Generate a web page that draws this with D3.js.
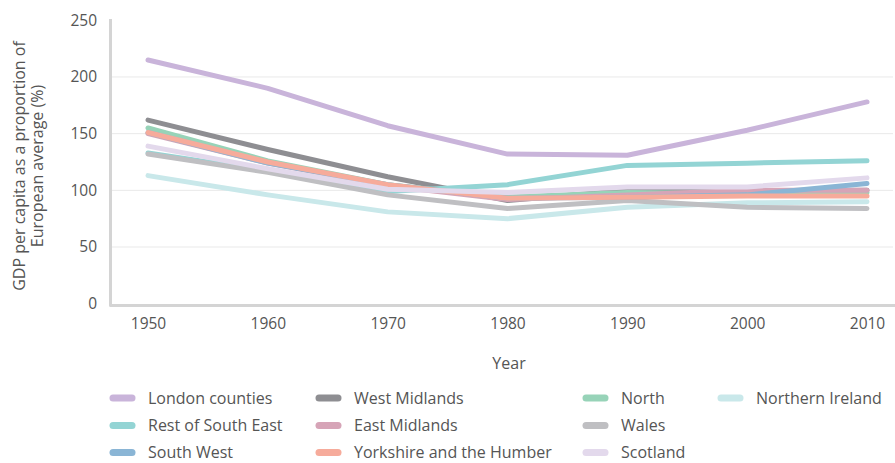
<!DOCTYPE html>
<html><head><meta charset="utf-8">
<script src="https://cdn.jsdelivr.net/npm/d3@7"></script>
<style>
body{margin:0;background:#fff;}
text{font-family:"Open Sans",sans-serif;fill:#555;}
</style></head>
<body>
<svg id="c" width="895" height="463"></svg>
<script>
const years = [1950, 1960, 1970, 1980, 1990, 2000, 2010];
const yTicks = [0, 50, 100, 150, 200, 250];
const seriesNames = ["London counties","West Midlands","North","Northern Ireland","Rest of South East","East Midlands","Wales","South West","Yorkshire and the Humber","Scotland"];
const seriesColors = ["#c9b4da","#8e8e92","#97d3b8","#c9e8ea","#93d4d4","#d6a4b7","#bfbfc2","#8ab5d5","#f6ab9b","#e3d9ec"];
const london = [215, 190, 157, 132, 131, 153, 178];
const westMidlands = [162, 136, 112, 91, 100, 99, 100];
const north = [155, 126, 105, 94, 98, 97, 98];
const northernIreland = [113, 96, 81, 75, 85, 89, 90];
const restSouthEast = [133, 117, 99, 105, 122, 124, 126];
const eastMidlands = [150, 124, 104, 92, 96, 100, 100];
const wales = [132, 116, 96, 84, 91, 85, 84];
const southWest = [151, 124, 105, 93, 94, 96, 106];
const yorkshire = [151, 125, 105, 93, 94, 95, 95];
const scotland = [139, 119, 101, 98, 103, 103, 111];
const seriesValues = [london, westMidlands, north, northernIreland, restSouthEast, eastMidlands, wales, southWest, yorkshire, scotland];

const svg = d3.select("#c");
const x = d3.scaleLinear().domain([1950, 2010]).range([148, 867]);
const y = d3.scaleLinear().domain([0, 250]).range([303.7, 20.3]);

// gridlines
svg.append("g").selectAll("line").data(yTicks.filter(d => d > 0 && d < 250)).join("line")
  .attr("x1", 111).attr("x2", 893).attr("y1", d => y(d)).attr("y2", d => y(d))
  .attr("stroke", "#e9e9e9").attr("stroke-width", 1);

// frame
svg.append("path").attr("d", "M110.5,19 L110.5,305.5 L895,305.5")
  .attr("fill", "none").attr("stroke", "#d4d4d4").attr("stroke-width", 3).attr("stroke-linejoin", "round");

// y axis labels
const yAxis = d3.axisLeft(y).tickValues(yTicks).tickSize(0).tickPadding(0);
const gy = svg.append("g").attr("transform", "translate(97,0)").call(yAxis);
gy.select(".domain").remove();
gy.selectAll("text").style("font-family", "'Open Sans',sans-serif").style("font-size", "15.5px").attr("fill", "#555");

// x axis labels
const xAxis = d3.axisBottom(x).tickValues(years).tickFormat(d3.format("d")).tickSize(0).tickPadding(0);
const gx = svg.append("g").attr("transform", "translate(0,318)").call(xAxis);
gx.select(".domain").remove();
gx.selectAll("text").style("font-family", "'Open Sans',sans-serif").style("font-size", "15.5px").attr("fill", "#555");

// axis titles
svg.append("text").attr("x", 509).attr("y", 369).attr("text-anchor", "middle").style("font-size", "16px").text("Year");
const yt = svg.append("text").attr("transform", "translate(0,166) rotate(-90)").attr("text-anchor", "middle").style("font-size", "16px");
yt.append("tspan").attr("x", 0).attr("y", 25).text("GDP per capita as a proportion of");
yt.append("tspan").attr("x", 0).attr("y", 43).text("European average (%)");

// lines
const line = d3.line().x((d, i) => x(years[i])).y(d => y(d));
svg.append("g").selectAll("path").data(seriesValues).join("path")
  .attr("d", d => line(d)).attr("fill", "none")
  .attr("stroke", (d, i) => seriesColors[i]).attr("stroke-width", 5)
  .attr("stroke-linecap", "round").attr("stroke-linejoin", "round");

// legend
const colX = [110, 316, 583, 718];
const rowY = [398, 425.5, 452.5];
const legendPos = [[0,0],[1,0],[2,0],[3,0],[0,1],[1,1],[2,1],[0,2],[1,2],[2,2]];
const lg = svg.append("g").selectAll("g").data(seriesNames).join("g")
  .attr("transform", (d, i) => `translate(${colX[legendPos[i][0]]},${rowY[legendPos[i][1]]})`);
lg.append("line").attr("x1", 3).attr("x2", 22).attr("y1", 0).attr("y2", 0)
  .attr("stroke", (d, i) => seriesColors[i]).attr("stroke-width", 7).attr("stroke-linecap", "round");
lg.append("text").attr("x", 38).attr("y", 0).attr("dy", "0.35em").style("font-size", "16px").text(d => d);
</script>
</body></html>
